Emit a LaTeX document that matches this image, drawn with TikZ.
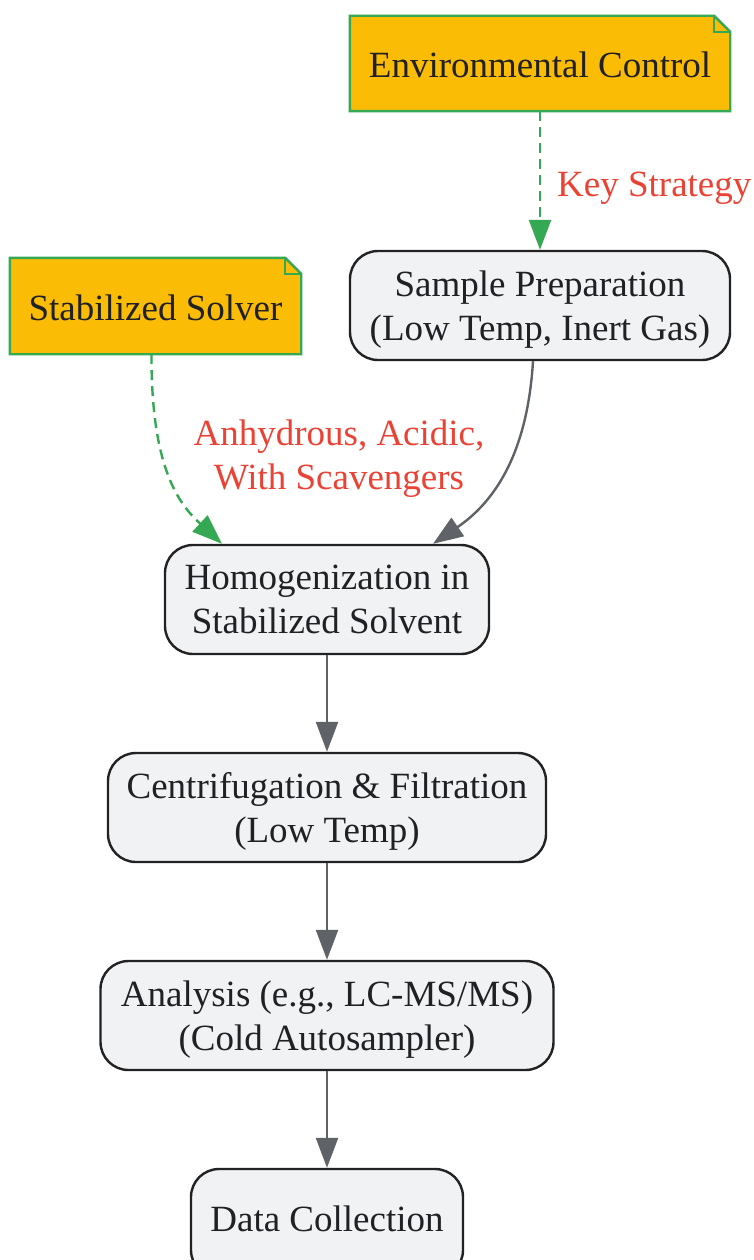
\documentclass[tikz,border=0pt]{standalone}
\usepackage{fontspec}
\setmainfont{Liberation Serif}
\usetikzlibrary{arrows.meta}
\definecolor{boxfill}{HTML}{F1F2F4}
\definecolor{boxline}{HTML}{222222}
\definecolor{txt}{HTML}{202124}
\definecolor{grayarrow}{HTML}{5F6368}
\definecolor{gnote}{HTML}{34A853}
\definecolor{ynote}{HTML}{FBBC05}
\definecolor{rlabel}{HTML}{EA4335}
\tikzset{
  procbox/.style={draw=boxline, fill=boxfill, line width=2.4pt, rounded corners=28pt,
    align=center, text=txt, font=\fontsize{37}{44}\selectfont, inner sep=0pt, text depth=0pt},
  notebox/.style={draw=none, align=center, text=txt, font=\fontsize{37}{44}\selectfont, inner sep=0pt},
  flow/.style={draw=grayarrow, line width=2.4pt, -{Triangle[length=30pt,width=22pt]}},
  noteflow/.style={draw=gnote, line width=2.4pt, dash pattern=on 10pt off 6pt, -{Triangle[length=30pt,width=22pt]}},
  edgelabel/.style={text=rlabel, font=\fontsize{37}{44}\selectfont, align=center, inner sep=0pt},
}
\newcommand{\notedraw}[1]{%
  \fill[ynote] (#1.north west) -- ([xshift=-16pt]#1.north east) -- ([yshift=-16pt]#1.north east) -- (#1.south east) -- (#1.south west) -- cycle;
  \draw[gnote, line width=2.4pt, line join=miter]
    (#1.north west) -- ([xshift=-16pt]#1.north east) -- ([yshift=-16pt]#1.north east) -- (#1.south east) -- (#1.south west) -- cycle;
  \draw[gnote, line width=2.4pt] ([xshift=-16pt]#1.north east) -- ([xshift=-16pt,yshift=-16pt]#1.north east) -- ([yshift=-16pt]#1.north east);
}
\begin{document}
\begin{tikzpicture}[x=1pt,y=-1pt]
\useasboundingbox[fill=white] (0,0) rectangle (754,1260);
% notes
\node[notebox, minimum width=380pt, minimum height=95pt] (env) at (540,63.5) {};
\notedraw{env}
\node[notebox] (envt) at (540,65) {Environmental Control};
\node[notebox, minimum width=291pt, minimum height=96pt] (stab) at (155.5,306) {};
\notedraw{stab}
\node[notebox] (stabt) at (155.5,308) {Stabilized Solver};
% process boxes
\node[procbox, minimum width=380pt, minimum height=109pt] (prep) at (540,305.5) {Sample Preparation\\(Low Temp, Inert Gas)};
\node[procbox, minimum width=324pt, minimum height=109pt] (homo) at (327,599.5) {Homogenization in\\Stabilized Solvent};
\node[procbox, minimum width=438pt, minimum height=109pt] (cent) at (327,807.5) {Centrifugation \& Filtration\\(Low Temp)};
\node[procbox, minimum width=453pt, minimum height=109pt] (anal) at (327,1015.5) {Analysis (e.g., LC-MS/MS)\\(Cold Autosampler)};
\node[procbox, minimum width=272pt, minimum height=109pt, text height=15pt] (data) at (327,1223.5) {Data Collection};
% edges
\draw[noteflow] (env.south) -- (prep.north);
\node[edgelabel, anchor=west] (lkey) at (557,188) {Key Strategy};
\draw[noteflow] ([xshift=-4pt]stab.south) .. controls (151,470) and (180,505) .. ([xshift=-105pt]homo.north);
\draw[flow] ([xshift=-7pt]prep.south) .. controls (527,460) and (490,505) .. ([xshift=106pt]homo.north);
\node[edgelabel] (lanh) at (339,459) {Anhydrous, Acidic,\\With Scavengers};
\draw[flow] (homo) -- (cent);
\draw[flow] (cent) -- (anal);
\draw[flow] (anal) -- (data);
\end{tikzpicture}
\end{document}
